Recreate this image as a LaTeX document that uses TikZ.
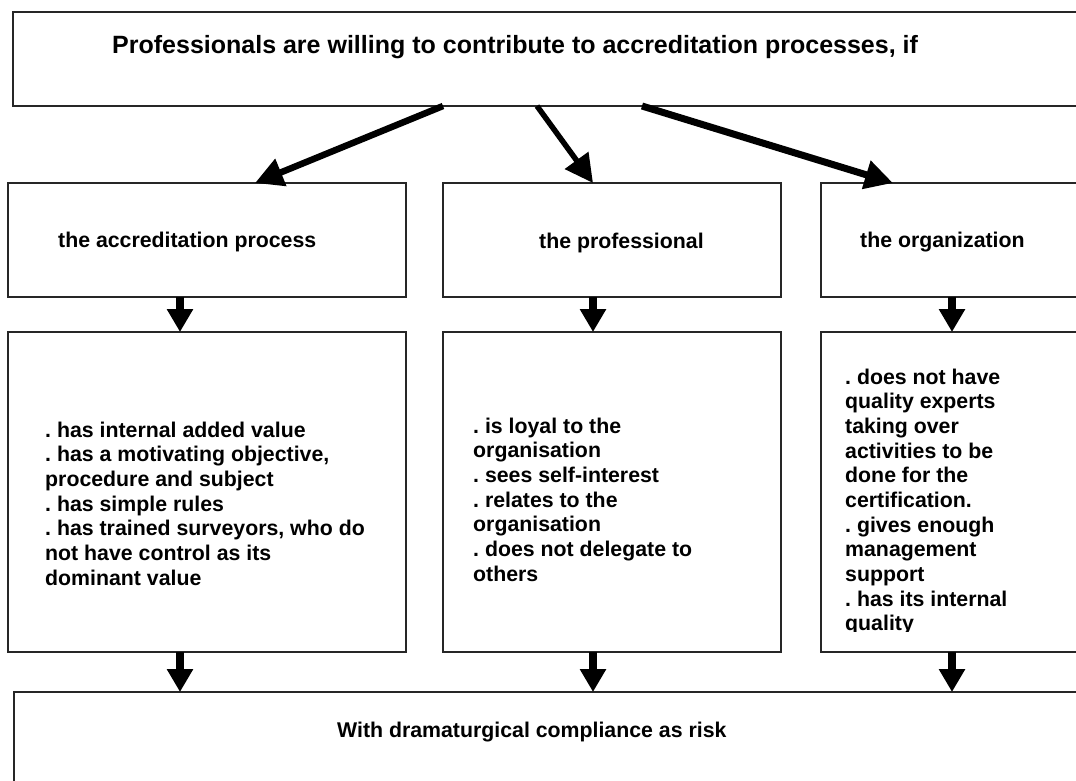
\documentclass[tikz,border=0pt]{standalone}
\usepackage{fontspec}
\setmainfont{Liberation Sans}
\usetikzlibrary{arrows.meta}

\begin{document}
\frenchspacing
\begin{tikzpicture}[x=1pt,y=-1pt,
  box/.style={draw=black!85, line width=1.6pt, anchor=north west,
              inner sep=0pt, outer sep=0pt},
  titletxt/.style={anchor=base west, inner sep=0pt,
              font=\bfseries\fontsize{25}{30}\selectfont},
  headtxt/.style={anchor=base west, inner sep=0pt,
              font=\bfseries\fontsize{21.3}{24.67}\selectfont},
  listtxt/.style={anchor=base west, inner sep=0pt,
              font=\bfseries\fontsize{21.3}{24.67}\selectfont},
  downarr/.style={-{Triangle[length=23pt,width=25pt]}, line width=8pt, black},
  fanarr/.style={-{Triangle[length=28pt,width=28pt]}, line width=#1, black},
]
\useasboundingbox (0,0) rectangle (1076,780);
\clip (0,0) rectangle (1076,780);
\fill[white] (0,0) rectangle (1076,780);

% boxes
\node[box, minimum width=1100pt, minimum height=94pt]  (top) at (13,12) {};
\node[box, minimum width=398pt,  minimum height=114pt] (a1)  at (8,183) {};
\node[box, minimum width=338pt,  minimum height=114pt] (b1)  at (443,183) {};
\node[box, minimum width=300pt,  minimum height=114pt] (c1)  at (821,183) {};
\node[box, minimum width=398pt,  minimum height=320pt] (a2)  at (8,332) {};
\node[box, minimum width=338pt,  minimum height=320pt] (b2)  at (443,332) {};
\node[box, minimum width=300pt,  minimum height=320pt] (c2)  at (821,332) {};
\node[box, minimum width=1100pt, minimum height=120pt] (bot) at (14,692) {};

% texts
\node[titletxt] (ttop) at (112,53) {Professionals are willing to contribute to accreditation processes, if};
\node[headtxt] (ta1) at (58,247)  {the accreditation process};
\node[headtxt] (tb1) at (539,248) {the professional};
\node[headtxt] (tc1) at (860,247) {the organization};

\node[listtxt] (ta2) at (45,437) {\parbox[t]{360pt}{\raggedright
  . has internal added value\\
  . has a motivating objective,\\
  procedure and subject\\
  . has simple rules\\
  . has trained surveyors, who do\\
  not have control as its\\
  dominant value}};

\node[listtxt] (tb2) at (473,433) {\parbox[t]{300pt}{\raggedright
  . is loyal to the\\
  organisation\\
  . sees self-interest\\
  . relates to the\\
  organisation\\
  . does not delegate to\\
  others}};

% the last line runs into the bottom of its box and is cut off there
\begin{scope}
  \clip (821,332) rectangle (1076,631.5);
  \node[listtxt] (tc2) at (845,384) {\parbox[t]{220pt}{\raggedright
    . does not have\\
    quality experts\\
    taking over\\
    activities to be\\
    done for the\\
    certification.\\
    . gives enough\\
    management\\
    support\\
    . has its internal\\
    quality}};
\end{scope}

\node[headtxt] (tbot) at (337,737) {With dramaturgical compliance as risk};

% fan-out arrows from the title box
\draw[fanarr=6.5pt] ([xshift=430pt]top.south west) -- ([xshift=247pt]a1.north west);
\draw[fanarr=5.5pt] ([xshift=524pt]top.south west) -- ([xshift=150pt]b1.north west);
\draw[fanarr=7pt]   ([xshift=629pt]top.south west) -- ([xshift=72pt]c1.north west);

% vertical arrows
\draw[downarr] ([xshift=172pt]a1.south west) -- ([xshift=172pt]a2.north west);
\draw[downarr] ([xshift=150pt]b1.south west) -- ([xshift=150pt]b2.north west);
\draw[downarr] ([xshift=131pt]c1.south west) -- ([xshift=131pt]c2.north west);
\draw[downarr] ([xshift=172pt]a2.south west) -- ([xshift=166pt]bot.north west);
\draw[downarr] ([xshift=150pt]b2.south west) -- ([xshift=579pt]bot.north west);
\draw[downarr] ([xshift=131pt]c2.south west) -- ([xshift=938pt]bot.north west);
\end{tikzpicture}
\end{document}
